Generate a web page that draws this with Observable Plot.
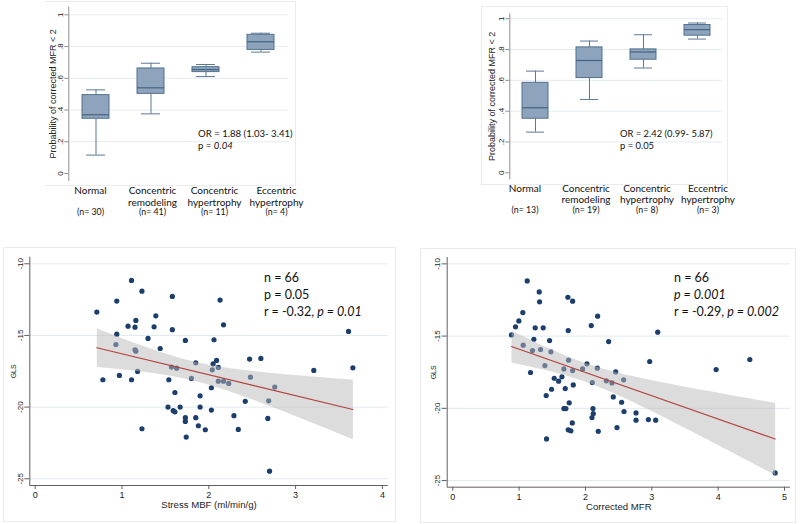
<!DOCTYPE html>
<html><head><meta charset="utf-8">
<script src="https://cdn.jsdelivr.net/npm/d3@7"></script>
<script src="https://cdn.jsdelivr.net/npm/@observablehq/plot@0.6"></script>
<style>
body{margin:0;background:#fff;width:800px;height:524px;position:relative;overflow:hidden;font-family:"Liberation Sans",Arial,sans-serif}
.p{position:absolute}
.note{position:absolute;font-family:Lato,"Open Sans",sans-serif;color:#111;white-space:nowrap}
.bd{position:absolute;border:1px solid #ebebeb;box-sizing:border-box}
</style></head><body>
<div class="bd" style="left:45px;top:1px;width:251px;height:185px;border-left:none"></div>
<div class="bd" style="left:481px;top:6px;width:247px;height:179px"></div>
<div class="bd" style="left:3px;top:247px;width:393px;height:275px"></div>
<div class="bd" style="left:420px;top:248px;width:376px;height:275px"></div>
<div id="tl" class="p" style="left:0;top:0"></div>
<div id="tlLab" class="p" style="left:0;top:0"></div>
<div id="tr" class="p" style="left:400px;top:0"></div>
<div id="trLab" class="p" style="left:400px;top:0"></div>
<div id="bl" class="p" style="left:0;top:240px"></div>
<div id="br" class="p" style="left:400px;top:240px"></div>
<div class="note" style="left:198px;top:127.8px;font-size:9.6px;line-height:12.4px">OR = 1.88 (1.03- 3.41)<br>p = <i>0.04</i></div>
<div class="note" style="left:620px;top:128px;font-size:9.4px;line-height:12.4px">OR = 2.42 (0.99- 5.87)<br>p = 0.05</div>
<div class="note" style="left:264px;top:268.5px;font-size:12.5px;line-height:17px">n = 66<br>p = 0.05<br>r = -0.32, <i>p = 0.01</i></div>
<div class="note" style="left:674px;top:268.5px;font-size:12.5px;line-height:17px">n = 66<br><i>p = 0.001</i><br>r = -0.29, <i>p = 0.002</i></div>
<script>
// ---- data ----
const categories = ["Normal", "Concentric remodeling", "Concentric hypertrophy", "Eccentric hypertrophy"];
const nLeft = [30, 41, 11, 4];
const nRight = [13, 19, 8, 3];
const yTicksProb = [0, 0.2, 0.4, 0.6, 0.8, 1];

const leftMin = [0.116, 0.376, 0.611, 0.765];
const leftQ1  = [0.345, 0.502, 0.639, 0.779];
const leftMed = [0.370, 0.540, 0.655, 0.830];
const leftQ3  = [0.494, 0.662, 0.670, 0.874];
const leftMax = [0.527, 0.695, 0.687, 0.884];

const rightMin = [0.264, 0.476, 0.680, 0.868];
const rightQ1  = [0.351, 0.615, 0.734, 0.890];
const rightMed = [0.422, 0.729, 0.784, 0.929];
const rightQ3  = [0.584, 0.814, 0.801, 0.959];
const rightMax = [0.660, 0.855, 0.896, 0.972];

const stressMBF = [0.71,0.78,0.94,0.94,0.93,0.97,1.11,1.07,1.16,1.15,1.15,1.16,1.18,1.11,1.23,1.23,1.30,1.37,1.39,1.44,1.53,1.54,1.58,1.58,1.57,1.61,1.59,1.61,1.63,1.67,1.73,1.73,1.73,1.74,1.80,1.85,1.85,1.88,1.90,1.90,1.96,2.03,2.03,2.04,2.05,2.06,2.09,2.11,2.11,2.17,2.13,2.17,2.23,2.29,2.34,2.42,2.47,2.48,2.60,2.68,2.69,2.70,2.76,3.21,3.61,3.66];
const glsA = [-13.37,-18.09,-12.60,-14.91,-15.63,-17.79,-11.16,-14.35,-13.95,-14.42,-16.00,-16.10,-17.51,-18.09,-11.91,-21.51,-15.21,-14.40,-13.63,-15.91,-20.00,-18.09,-12.28,-14.60,-17.21,-18.98,-20.25,-20.33,-17.28,-20.00,-15.35,-20.74,-21.00,-22.09,-18.00,-16.91,-20.74,-21.30,-19.21,-20.00,-21.58,-18.65,-20.21,-17.40,-16.99,-15.30,-16.74,-17.23,-18.19,-18.19,-12.53,-14.26,-18.35,-20.60,-21.56,-19.60,-16.65,-17.91,-16.60,-20.79,-19.56,-24.47,-18.60,-17.44,-14.72,-17.26];

const correctedMFR = [0.885,0.946,0.996,1.056,1.122,1.061,1.172,1.202,1.222,1.242,1.303,1.308,1.323,1.363,1.388,1.408,1.413,1.459,1.479,1.489,1.529,1.595,1.645,1.675,1.695,1.675,1.705,1.735,1.740,1.745,1.755,1.740,1.780,1.801,1.806,1.806,1.816,1.957,2.022,2.087,2.098,2.118,2.113,2.103,2.178,2.183,2.193,2.314,2.349,2.399,2.419,2.455,2.475,2.545,2.581,2.575,2.762,2.762,2.948,2.968,3.058,3.089,3.969,4.477,4.859];
const glsB = [-14.92,-14.36,-13.95,-13.37,-11.18,-15.63,-17.52,-16.00,-15.22,-14.43,-11.94,-12.63,-15.93,-14.43,-17.04,-19.12,-22.12,-15.31,-16.09,-18.68,-17.92,-18.12,-17.82,-17.27,-18.63,-20.02,-20.02,-12.31,-14.62,-16.67,-19.62,-21.49,-21.56,-21.01,-12.58,-17.39,-18.38,-17.27,-16.92,-14.27,-20.64,-20.36,-20.02,-18.22,-17.22,-13.62,-21.59,-18.10,-15.38,-18.24,-19.21,-17.48,-21.33,-19.58,-20.22,-18.03,-20.32,-20.82,-20.78,-16.76,-20.82,-14.73,-17.32,-16.62,-24.47];

const glsTicks = [-10, -15, -20, -25];
const mbfTicks = [0, 1, 2, 3, 4];
const mfrTicks = [0, 1, 2, 3, 4, 5];

// ---- rendering ----
const AX = "Liberation Sans, Arial, sans-serif";
const fmtProb = d => d === 0 ? "0" : d === 1 ? "1" : String(d).replace("0.", ".");
const baseStyle = {fontFamily: AX, background: "transparent", overflow: "visible", color: "#222"};

function boxPanel(o) {
  const data = categories.map((c, i) => ({cat: c, min: o.min[i], q1: o.q1[i], med: o.med[i], q3: o.q3[i], max: o.max[i]}));
  const whisk = "#5b7897", boxStroke = "#51708f";
  return Plot.plot({
    width: o.width, height: o.height,
    marginLeft: o.ml, marginRight: o.mr, marginTop: o.mt, marginBottom: o.mb,
    style: baseStyle,
    x: {type: "band", domain: categories, paddingInner: o.pi, paddingOuter: o.po, axis: null, label: null},
    y: {domain: o.yDomain, axis: null, label: null},
    marks: [
      Plot.gridY(yTicksProb.filter(d => d > 0), {stroke: "#e4ebf0", strokeOpacity: 1}),
      Plot.frame({anchor: "left", stroke: "#8f8f8f"}),
      Plot.axisY(yTicksProb, {tickSize: 4, tickPadding: 1.5, tickRotate: -90, tickFormat: fmtProb, fontSize: 8, stroke: "#8f8f8f", label: null}),
      Plot.text(["Probability of corrected MFR < 2"], {frameAnchor: "left", textAnchor: "middle", rotate: -90, dx: o.titleDx, fontSize: 9, fill: "#222"}),
      Plot.ruleX(data, {x: "cat", y1: "q3", y2: "max", stroke: whisk}),
      Plot.ruleX(data, {x: "cat", y1: "min", y2: "q1", stroke: whisk}),
      Plot.tickY(data, {x: "cat", y: "max", inset: 4, stroke: whisk}),
      Plot.tickY(data, {x: "cat", y: "min", inset: 4, stroke: whisk}),
      Plot.barY(data, {x: "cat", y1: "q1", y2: "q3", fill: "#8ea4bd", stroke: boxStroke, strokeWidth: 1}),
      Plot.tickY(data, {x: "cat", y: "med", stroke: "#44637f", strokeWidth: 1.2})
    ]
  });
}

// category labels under the box plots, on their own band scale
function labelPanel(o) {
  const data = categories.map((c, i) => ({cat: c, n: o.n[i]}));
  return Plot.plot({
    width: o.width, height: o.height,
    marginLeft: o.ml, marginRight: o.mr, marginTop: o.mt, marginBottom: o.mb,
    style: baseStyle,
    x: {type: "band", domain: categories, padding: 0, axis: null, label: null},
    y: {domain: [0, 1], axis: null, label: null},
    marks: [
      Plot.text(data, {x: "cat", frameAnchor: "bottom", text: d => { const w = d.cat.split(" "); return w[0] + "\n" + (w[1] || ""); },
        lineAnchor: "top", dy: o.labDy, lineHeight: 1.12, fontFamily: "Lato, sans-serif", fontSize: 10, fill: "#111"}),
      Plot.text(data, {x: "cat", frameAnchor: "bottom", text: d => `(n= ${d.n})`,
        lineAnchor: "top", dy: o.nDy, fontFamily: "Lato, sans-serif", fontSize: 8.8, fill: "#111"})
    ]
  });
}

function scatterPanel(o) {
  const data = o.x.map((v, i) => ({x: v, y: o.y[i]}));
  return Plot.plot({
    width: o.width, height: o.height,
    marginLeft: o.ml, marginRight: o.mr, marginTop: o.mt, marginBottom: o.mb,
    style: baseStyle,
    x: {domain: o.xDomain, axis: null, label: null},
    y: {domain: o.yDomain, axis: null, label: null},
    marks: [
      Plot.gridY(glsTicks, {stroke: "#e1e9ee", strokeOpacity: 1}),
      Plot.dot(data, {x: "x", y: "y", r: 2.6, fill: "#1b3e6c", stroke: null}),
      Plot.linearRegressionY(data, {x: "x", y: "y", stroke: "#b2403c", strokeWidth: 1.1, fill: "#b9b9b9", fillOpacity: 0.5}),
      Plot.ruleX([o.xDomain[0]], {stroke: "#606060"}),
      Plot.ruleY([o.yDomain[0]], {stroke: "#606060"}),
      Plot.axisY(glsTicks, {tickSize: 5, tickPadding: 2, tickRotate: -90, tickFormat: d => String(d), fontSize: 8, stroke: "#606060", label: null}),
      Plot.axisX(o.xTicks, {tickSize: 4, tickPadding: o.xPad, tickFormat: d => String(d), fontSize: 9, stroke: "#606060", label: null}),
      Plot.text([o.xLabel], {frameAnchor: "bottom", dy: o.xLabDy, fontSize: 9.6, fill: "#222"}),
      Plot.text(["GLS"], {frameAnchor: "left", textAnchor: "middle", rotate: -90, dx: o.gDx, fontSize: 7, fill: "#222"})
    ]
  });
}

document.getElementById("tl").append(boxPanel({
  min: leftMin, q1: leftQ1, med: leftMed, q3: leftQ3, max: leftMax,
  width: 300, height: 220, ml: 68.3, mr: 12, mt: 6.7, mb: 40, yDomain: [-0.044, 1.048],
  pi: 0.515, po: 0.23, titleDx: -16
}));
document.getElementById("tlLab").append(labelPanel({
  n: nLeft, width: 320, height: 220, ml: 57.9, mr: 12.9, mt: 6.7, mb: 40, labDy: 6, nDy: 28.5
}));
document.getElementById("tr").append(boxPanel({
  min: rightMin, q1: rightQ1, med: rightMed, q3: rightQ3, max: rightMax,
  width: 330, height: 220, ml: 109.3, mr: 8.3, mt: 13.3, mb: 41.7, yDomain: [-0.039, 1.032],
  pi: 0.521, po: 0.215, titleDx: -17.6
}));
document.getElementById("trLab").append(labelPanel({
  n: nRight, width: 350, height: 220, ml: 92.2, mr: 11.2, mt: 13.3, mb: 41.7, labDy: 5.4, nDy: 28.4
}));
document.getElementById("bl").append(scatterPanel({
  x: stressMBF, y: glsA, xTicks: mbfTicks, xLabel: "Stress MBF (ml/min/g)",
  width: 400, height: 284, ml: 29.3, mr: 12.3, mt: 16.7, mb: 39,
  xDomain: [-0.062, 4.067], yDomain: [-25.47, -9.54], xPad: 1.8, xLabDy: 22.5, gDx: -16
}));
document.getElementById("br").append(scatterPanel({
  x: correctedMFR, y: glsB, xTicks: mfrTicks, xLabel: "Corrected MFR",
  width: 400, height: 284, ml: 46.7, mr: 10, mt: 17, mb: 37.3,
  xDomain: [-0.084, 5.09], yDomain: [-25.46, -9.56], xPad: 2.5, xLabDy: 23.2, gDx: -13.4
}));
</script>
</body></html>
